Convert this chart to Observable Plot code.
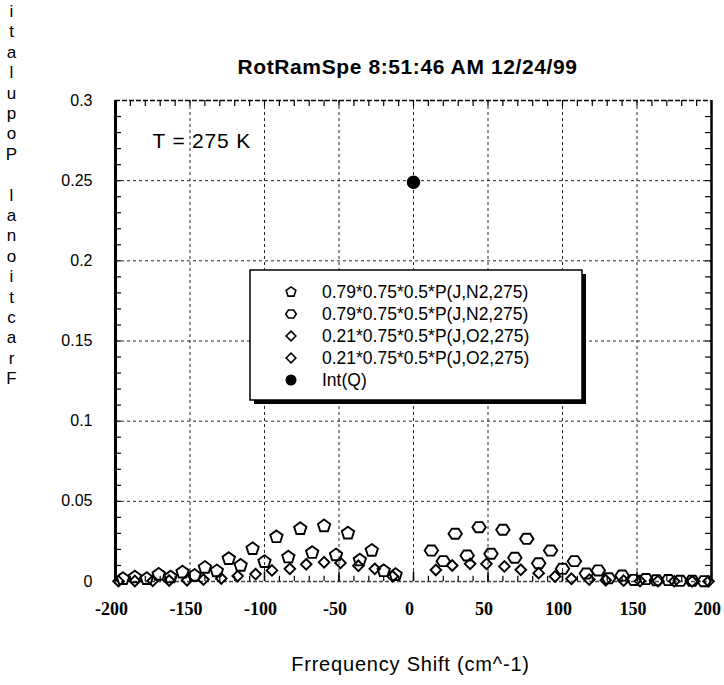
<!DOCTYPE html>
<html><head><meta charset="utf-8">
<script src="https://cdn.jsdelivr.net/npm/d3@7"></script>
<script src="https://cdn.jsdelivr.net/npm/@observablehq/plot@0.6"></script>
<style>
body{margin:0;background:#fff;}
#chart{position:relative;width:724px;height:685px;}
</style>
</head><body><div id="chart"></div>
<script>
// ---- data ----
const n2NegShift = [-12,-20,-28,-36,-44,-52,-60,-68,-76,-84,-92,-100,-108,-116,-124,-132,-140,-147,-155,-163,-171,-179,-187,-195];
const n2NegFrac  = [0.0042,0.0066,0.0193,0.0133,0.0301,0.0165,0.0346,0.0180,0.0329,0.0152,0.0278,0.0123,0.0204,0.0100,0.0142,0.0065,0.0087,0.0037,0.0058,0.0027,0.0044,0.0017,0.0027,0.0017];
const n2PosShift = [12,20,28,36,44,52,60,68,76,84,92,100,108,116,124,131,140,148,156,163,171,179,187,195];
const n2PosFrac  = [0.0193,0.0127,0.0298,0.0162,0.0339,0.0173,0.0323,0.0148,0.0266,0.0114,0.0193,0.0079,0.0127,0.0050,0.0069,0.0020,0.0037,0.0010,0.0015,0.0008,0.0009,0.0004,0.0004,0.0002];
const o2NegShift = [-14,-26,-37,-49,-60,-72,-83,-95,-106,-118,-129,-141,-152,-164,-175,-187,-198];
const o2NegFrac  = [0.0032,0.0079,0.0098,0.0116,0.0120,0.0107,0.0079,0.0069,0.0046,0.0034,0.0019,0.0012,0.0008,0.0006,0.0004,0.0003,0.0002];
const o2PosShift = [15,26,38,49,61,72,84,95,106,118,129,141,152,164,175,187,198];
const o2PosFrac  = [0.0072,0.0100,0.0110,0.0110,0.0094,0.0073,0.0052,0.0031,0.0017,0.0012,0.0008,0.0005,0.0003,0.0002,0.0001,0.0001,0.0001];
const intQShift = [0];
const intQFrac  = [0.249];

const xTicks = [-200,-150,-100,-50,0,50,100,150,200];
const xTickLabels = ["-200","-150","-100","-50","0","50","100","150","200"];
const yTicks = [0,0.05,0.1,0.15,0.2,0.25,0.3];
const yTickLabels = ["0","0.05","0.1","0.15","0.2","0.25","0.3"];
const xMinor = d3.range(-190,200,10);
const yMinor = d3.range(1,30).map(i => i/100);

const seriesLabels = ["0.79*0.75*0.5*P(J,N2,275)","0.79*0.75*0.5*P(J,N2,275)","0.21*0.75*0.5*P(J,O2,275)","0.21*0.75*0.5*P(J,O2,275)","Int(Q)"];
const titleText = "RotRamSpe 8:51:46 AM 12/24/99";
const xLabelText = "Frrequency Shift (cm^-1)";
const yLabelText = "Fractional Populati";
const noteText = "T = 275 K";

// ---- symbols ----
const pentagon = {draw(ctx, size){
  const r = Math.sqrt(size/Math.PI)*1.08;
  for(let i=0;i<5;i++){const a=-Math.PI/2+i*2*Math.PI/5;const x=r*Math.cos(a),y=r*Math.sin(a);i?ctx.lineTo(x,y):ctx.moveTo(x,y);}
  ctx.closePath();
}};
const hexagon = {draw(ctx, size){
  const r = Math.sqrt(size/Math.PI)*1.02;
  for(let i=0;i<6;i++){const a=i*Math.PI/3;const x=r*1.1*Math.cos(a),y=r*0.95*Math.sin(a);i?ctx.lineTo(x,y):ctx.moveTo(x,y);}
  ctx.closePath();
}};

const toRows = (xs, ys) => xs.map((x,i)=>({x, y: ys[i]}));
const n2Neg = toRows(n2NegShift, n2NegFrac);
const n2Pos = toRows(n2PosShift, n2PosFrac);
const o2Neg = toRows(o2NegShift, o2NegFrac);
const o2Pos = toRows(o2PosShift, o2PosFrac);
const intQ = toRows(intQShift, intQFrac);

const sans = "Liberation Sans, Arial, sans-serif";
const dash = {stroke:"#000", strokeWidth:1, strokeDasharray:"3,3", strokeOpacity:0.85};

const plot = Plot.plot({
  width:724, height:685,
  marginLeft:115, marginRight:13, marginTop:100, marginBottom:104,
  x:{domain:[-200,200]},
  y:{domain:[0,0.3]},
  style:{background:"#fff", fontFamily:sans, color:"#000"},
  marks:[
    // grid
    Plot.ruleX(xTicks.slice(1,-1), {x:d=>d, ...dash}),
    Plot.ruleY(yTicks.slice(1,-1), {y:d=>d, ...dash}),
    // frame
    Plot.ruleY([0.3], {y:d=>d, stroke:"#000", strokeWidth:1.6, strokeDasharray:"5,2"}),
    Plot.ruleY([0], {y:d=>d, stroke:"#444", strokeWidth:1.4, strokeDasharray:"4,2"}),
    Plot.ruleX([-200], {x:d=>d, stroke:"#000", strokeWidth:3}),
    Plot.ruleX([200], {x:d=>d, stroke:"#000", strokeWidth:2.5}),
    // minor / major ticks
    Plot.ruleX(xMinor, {x:d=>d, y1:0.3, y2:0.2962, stroke:"#000", strokeWidth:1.2}),
    Plot.ruleX(xMinor, {x:d=>d, y1:0, y2:0.0032, stroke:"#000", strokeWidth:1.2}),
    Plot.ruleX(xTicks, {x:d=>d, y1:0, y2:0.006, stroke:"#000", strokeWidth:1.5}),
    Plot.ruleY(yMinor, {y:d=>d, x1:-200, x2:-196, stroke:"#000", strokeWidth:1.2}),
    Plot.ruleY(yMinor, {y:d=>d, x1:200, x2:196, stroke:"#000", strokeWidth:1.2}),
    // axes
    Plot.axisY({ticks:yTicks, tickSize:0, tickPadding:23, label:null, fontSize:16, fontFamily:sans,
      tickFormat:d=>yTickLabels[yTicks.indexOf(d)]}),
    Plot.axisX({ticks:xTicks, tickSize:0, tickPadding:21, dx:-4, label:null, fontSize:18, fontFamily:"Liberation Serif, Times New Roman, serif", fontWeight:"bold",
      tickFormat:d=>xTickLabels[xTicks.indexOf(d)]}),
    // data
    Plot.dot(o2Neg, {x:"x", y:"y", symbol:"diamond2", r:4.8, stroke:"#000", strokeWidth:1.9, fill:"none"}),
    Plot.dot(o2Pos, {x:"x", y:"y", symbol:"diamond2", r:4.8, stroke:"#000", strokeWidth:1.9, fill:"none"}),
    Plot.dot(n2Neg, {x:"x", y:"y", symbol:pentagon, r:6, stroke:"#000", strokeWidth:1.9, fill:"none"}),
    Plot.dot(n2Pos, {x:"x", y:"y", symbol:hexagon, r:6, stroke:"#000", strokeWidth:1.9, fill:"none"}),
    Plot.dot(intQ, {x:"x", y:"y", r:6, fill:"#000", stroke:"#000"}),
    // texts
    Plot.text([titleText], {text:d=>d, frameAnchor:"top", dx:-6, dy:-33, lineAnchor:"middle", fontSize:21, fontWeight:"bold", fontFamily:sans}),
    Plot.text([xLabelText], {text:d=>d, frameAnchor:"bottom", dx:-3, dy:83, lineAnchor:"middle", fontSize:20, fontFamily:sans}),
    Plot.text([noteText], {text:d=>d, frameAnchor:"top-left", dx:37, dy:41, textAnchor:"start", lineAnchor:"middle", fontSize:21, fontFamily:sans}),
    Plot.text([yLabelText.split("").reverse().join("\n")], {text:d=>d, frameAnchor:"top-left", dx:-104, dy:-98, textAnchor:"middle", lineAnchor:"top", lineHeight:1.2, fontSize:17, fontFamily:sans})
  ]
});
document.getElementById("chart").append(plot);

const svg = d3.select(plot);
svg.selectAll("text").filter(function(){return this.textContent===titleText;}).attr("letter-spacing","0.6");
svg.selectAll("text").filter(function(){return this.textContent===xLabelText;}).attr("letter-spacing","0.8");
svg.selectAll("text").filter(function(){return this.textContent===noteText;}).attr("letter-spacing","0.8");

// ---- legend box ----
const lg = svg.append("g").attr("text-anchor","start");
const bx = 250, by = 270, bw = 332, bh = 130;
lg.append("rect").attr("x",bx+4).attr("y",by+4).attr("width",bw).attr("height",bh).attr("fill","#000");
lg.append("rect").attr("x",bx).attr("y",by).attr("width",bw).attr("height",bh).attr("fill","#fff").attr("stroke","#000").attr("stroke-width",1.5);
const legendSymbols = [pentagon, hexagon, d3.symbolDiamond2, d3.symbolDiamond2, d3.symbolCircle];
const legendSizes = [70, 70, 60, 60, 70];
seriesLabels.forEach((lab,i)=>{
  const yy = by + 22 + i*22;
  lg.append("path").attr("transform",`translate(${bx+41},${yy})`)
    .attr("d", d3.symbol(legendSymbols[i], legendSizes[i])())
    .attr("fill", i===4 ? "#000" : "none").attr("stroke","#000").attr("stroke-width",1.6);
  lg.append("text").attr("x",bx+72).attr("y",yy).attr("dy","0.35em").attr("text-anchor","start")
    .attr("font-family",sans).attr("font-size",17.5).text(lab);
});
</script>
</body></html>
